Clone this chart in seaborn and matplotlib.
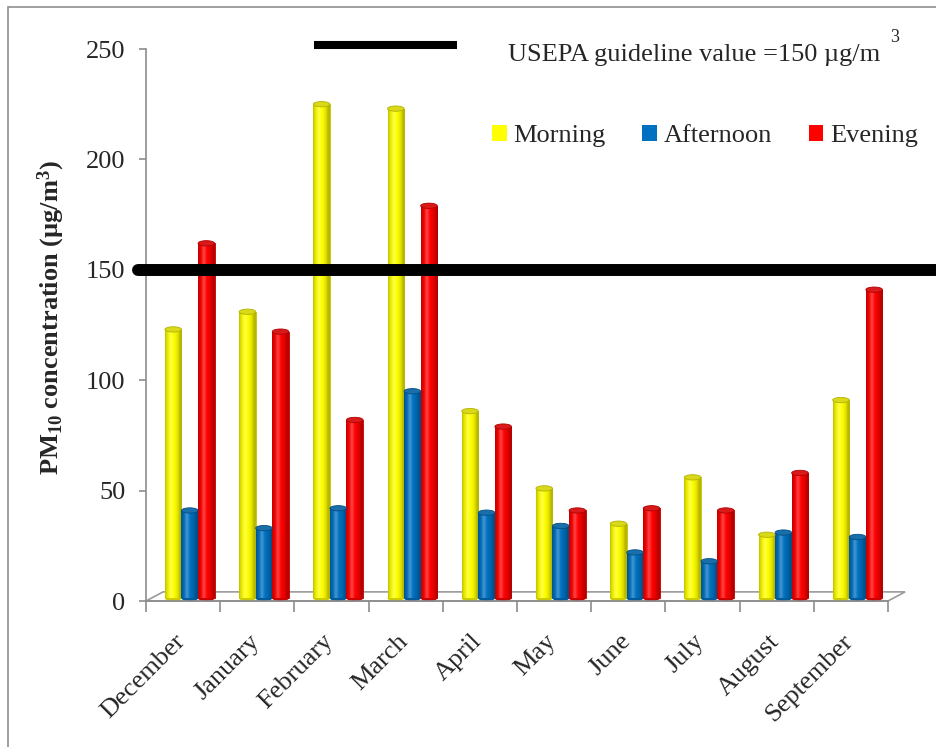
import numpy as np
import pandas as pd
import matplotlib
matplotlib.use("Agg")
import matplotlib.pyplot as plt
import seaborn as sns
from matplotlib.patches import Ellipse, Rectangle, Polygon
from matplotlib.colors import to_rgb

# PM10 concentrations by month and time of day (µg/m3)
months = ["December", "January", "February", "March", "April",
          "May", "June", "July", "August", "September"]
morning = [123, 131, 225, 223, 86, 51, 35, 56, 30, 91]
afternoon = [41, 33, 42, 95, 40, 34, 22, 18, 31, 29]
evening = [162, 122, 82, 179, 79, 41, 42, 41, 58, 141]
periods = ["Morning", "Afternoon", "Evening"]
colors = ["#FFFF00", "#0070C0", "#FF0000"]
guideline = 150
y_ticks = [0, 50, 100, 150, 200, 250]

df = pd.DataFrame({
    "Month": months * 3,
    "Value": morning + afternoon + evening,
    "Period": [p for p in periods for _ in months],
})

sns.set_theme(style="white")
plt.rcParams["font.family"] = ["Liberation Serif", "DejaVu Serif"]
plt.rcParams["mathtext.fontset"] = "custom"
plt.rcParams["mathtext.rm"] = "Liberation Serif"
plt.rcParams["mathtext.it"] = "Liberation Serif:italic"
plt.rcParams["mathtext.bf"] = "Liberation Serif:bold"

W, H = 937, 747
fig = plt.figure(figsize=(W / 100, H / 100), dpi=100)
fig.patch.set_facecolor("white")
ax = fig.add_axes([146 / W, 1 - 601 / H, 742 / W, 552 / H])

sns.barplot(data=df, x="Month", y="Value", hue="Period", order=months,
            hue_order=periods, palette=colors, saturation=1, width=0.67,
            ax=ax, legend=False, errorbar=None)
ax.set_xlim(-0.5, 9.5)
ax.set_ylim(0, 250)
ax.set_autoscale_on(False)

# cylinder-style shading for each bar
bars = list(ax.patches)
shift = 0.09
t = np.linspace(0, 1, 80)
shade = 0.72 + 0.28 * np.sin(np.pi * np.clip(t * 1.15, 0, 1)) ** 0.6
highlight = np.exp(-((t - 0.35) / 0.12) ** 2) * 0.25
cap_h = 2.4
for p in bars:
    p.set_x(p.get_x() + shift)
    x0, w, h = p.get_x(), p.get_width(), p.get_height()
    base = np.array(to_rgb(p.get_facecolor()))
    img = base[None, :] * shade[:, None]
    img = img + (1 - img) * highlight[:, None]
    img = np.clip(img, 0, 1)[None, :, :]
    p.set_edgecolor(tuple(base * 0.75))
    p.set_linewidth(0.6)
    p.set_y(1.2)
    p.set_height(h - 1.2)
    im = ax.imshow(img, extent=(x0, x0 + w, 1.2, h), aspect="auto",
                   interpolation="bilinear", zorder=2)
    im.set_clip_path(p)
    ax.add_patch(Ellipse((x0 + w / 2, 1.2), w, cap_h, facecolor=tuple(base * 0.8),
                         edgecolor="none", zorder=1.9, clip_on=False))
    ax.add_patch(Ellipse((x0 + w / 2, h), w, cap_h,
                         facecolor=tuple(base * 0.85 + 0.1 * (1 - base)),
                         edgecolor=tuple(base * 0.7), lw=0.6, zorder=3))

# axes styling
for s in ["top", "right"]:
    ax.spines[s].set_visible(False)
ax.spines["left"].set_color("#8c8c8c")
ax.spines["bottom"].set_color("#8c8c8c")
ax.spines["left"].set_linewidth(1.2)
ax.spines["bottom"].set_linewidth(1.2)

ax.set_yticks(y_ticks)
ax.set_yticklabels([str(v) for v in y_ticks], fontsize=19)
ax.tick_params(axis="y", length=5, width=1.2, color="#8c8c8c", pad=10, left=True)

ax.set_xticks(np.arange(len(months)) - 0.12)
ax.set_xticklabels(months, rotation=45, ha="right", rotation_mode="anchor",
                   fontsize=19)
ax.set_xticks(np.arange(-0.5, len(months)), minor=True)
ax.tick_params(axis="x", which="major", length=0, pad=21, bottom=True)
ax.tick_params(axis="x", which="minor", length=8, width=1.2, color="#8c8c8c",
               bottom=True)
ax.set_xlabel("")
ax.set_ylabel("")

# floor of the plot box
dx, dy = 0.023, 0.0165
ax.add_patch(Polygon([(0, 0), (dx, dy), (1 + dx, dy), (1, 0)], closed=True,
                     transform=ax.transAxes, facecolor="white",
                     edgecolor="#9a9a9a", lw=1.2, zorder=0.5, clip_on=False))

# guideline
ax.axhline(guideline, xmin=-0.011, xmax=1.07, color="black", lw=8.6,
           clip_on=False, zorder=4)
ax.plot([0.226, 0.419], [1.007, 1.007], transform=ax.transAxes, color="black",
        lw=5.8, clip_on=False, solid_capstyle="butt")

fig.text(508 / W, 1 - 55 / H, "USEPA guideline value =150 µg/m",
         fontsize=19, ha="left", va="center")
fig.text(890 / W, 1 - 37 / H, "3", fontsize=13, ha="left", va="center")

fig.text(51 / W, 1 - 318 / H,
         r"PM$_{\mathbf{10}}$ concentration (µg/m$^{\mathbf{3}}$)",
         rotation=90, fontsize=19, fontweight="bold", ha="center", va="center")

handles = [Rectangle((0, 0), 1, 1, facecolor=c, edgecolor="none") for c in colors]
fig.legend(handles, periods, loc="center left",
           bbox_to_anchor=(492 / W, 1 - 136 / H), ncol=3, frameon=False,
           fontsize=19, handlelength=0.55, handleheight=0.55,
           handletextpad=0.25, columnspacing=1.4, borderpad=0,
           borderaxespad=0)

# outer border of the chart area
fig.add_artist(Rectangle((8 / W, -0.05), 1.0, 1.05 - 7 / H,
                         transform=fig.transFigure, fill=False,
                         edgecolor="#8f8f8f", lw=1.2))

fig.savefig("out.png", dpi=100, facecolor="white")
